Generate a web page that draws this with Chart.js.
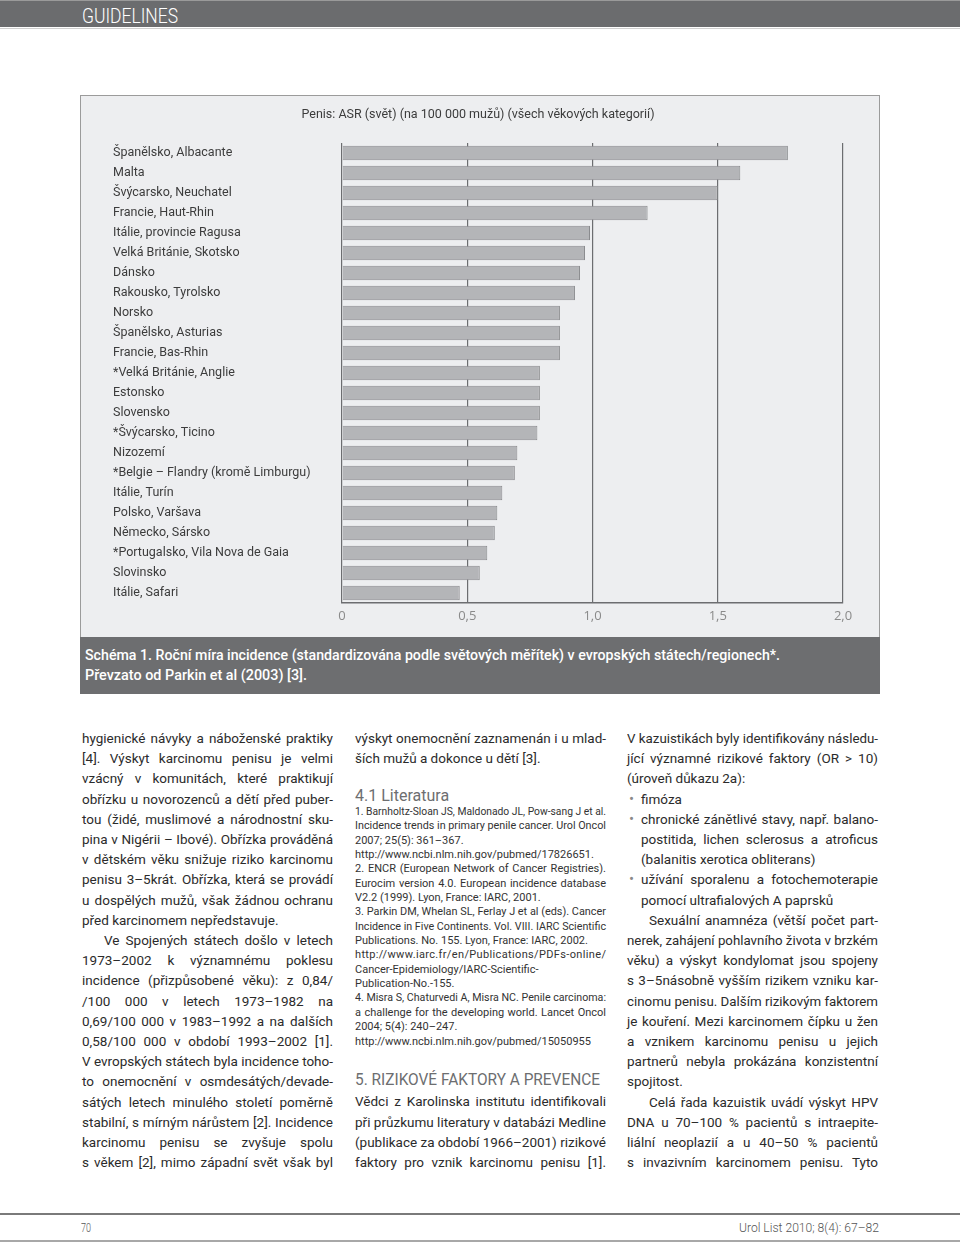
<!DOCTYPE html>
<html>
<head>
<meta charset="utf-8">
<script src="https://cdn.jsdelivr.net/npm/chart.js@4"></script>
<style>
  html, body { margin: 0; padding: 0; background: #fff; }
  body { width: 960px; height: 1242px; position: relative; overflow: hidden; font-family: Roboto, "Open Sans", sans-serif; color: #2b2b2b; }
  .head { position: absolute; left: 0; top: 0; width: 960px; height: 27px; background: #6b6c6e; border-top: 1px solid #9a9a9a; box-sizing: border-box; }
  .head-line { position: absolute; left: 0; top: 28px; width: 960px; height: 1px; background: #cfcfcf; }
  .head span { position: absolute; left: 82px; top: 3px; color: #fff; font-size: 20px; font-weight: 300; white-space: nowrap; display: inline-block; transform-origin: 0 0; }
  .panel { position: absolute; left: 80px; top: 95px; width: 800px; height: 599px; background: #edeef0; border: 1px solid #9b9b9b; box-sizing: border-box; }
  #chart { position: absolute; left: 80px; top: 95px; }
  .cap { position: absolute; left: 80px; top: 637px; width: 800px; height: 57px; background: #6d6e70; color: #fff; font-size: 14.5px; font-weight: 500; }
  .cap div { position: absolute; left: 5px; white-space: nowrap; transform-origin: 0 0; }
  .col { position: absolute; width: 251px; }
  .ln { white-space: nowrap; text-align: left; box-sizing: border-box; position: relative; }
  .ln span { white-space: nowrap; }
  .body { font-size: 13.5px; line-height: 20.2px; }
  .refs { font-size: 11px; line-height: 14.35px; color: #333; }
  .ind { padding-left: 22px; }
  .bul, .cont { padding-left: 14px; }
  .bul::before { content: "\2022"; position: absolute; left: 2px; top: 0; color: #8a8a8a; font-size: 15px; }
  .hd { color: #6d6e70; white-space: nowrap; position: absolute; transform-origin: 0 0; }
  .foot1 { position: absolute; left: 0; top: 1213px; width: 960px; height: 2px; background: #7a7a7a; }
  .foot2 { position: absolute; left: 0; top: 1240px; width: 960px; height: 2px; background: #a8a8a8; }
  .foot { position: absolute; top: 1219px; font-size: 13.5px; font-weight: 300; color: #555; white-space: nowrap; transform-origin: 0 0; }
</style>
</head>
<body>
<div class="head"><span class="fw" data-w="96">GUIDELINES</span></div>
<div class="head-line"></div>

<div class="panel"></div>
<canvas id="chart" width="800" height="542"></canvas>
<div class="cap">
  <div class="fw" data-w="695" style="top:10px">Schéma 1. Roční míra incidence (standardizována podle světových měřítek) v evropských státech/regionech*.</div>
  <div class="fw" data-w="222" style="top:30px">Převzato od Parkin et al (2003) [3].</div>
</div>

<!-- column 1 -->
<div class="col body" style="left:82px; top:728px;">
  <div class="ln j"><span>hygienické návyky a náboženské praktiky</span></div>
  <div class="ln j"><span>[4]. Výskyt karcinomu penisu je velmi</span></div>
  <div class="ln j"><span>vzácný v komunitách, které praktikují</span></div>
  <div class="ln j"><span>obřízku u novorozenců a dětí před puber-</span></div>
  <div class="ln j"><span>tou (židé, muslimové a národnostní sku-</span></div>
  <div class="ln j"><span>pina v Nigérii – Ibové). Obřízka prováděná</span></div>
  <div class="ln j"><span>v dětském věku snižuje riziko karcinomu</span></div>
  <div class="ln j"><span>penisu 3–5krát. Obřízka, která se provádí</span></div>
  <div class="ln j"><span>u dospělých mužů, však žádnou ochranu</span></div>
  <div class="ln"><span>před karcinomem nepředstavuje.</span></div>
  <div class="ln j ind"><span>Ve Spojených státech došlo v letech</span></div>
  <div class="ln j"><span>1973–2002 k významnému poklesu</span></div>
  <div class="ln j"><span>incidence (přizpůsobené věku): z 0,84/</span></div>
  <div class="ln j"><span>/100 000 v letech 1973–1982 na</span></div>
  <div class="ln j"><span>0,69/100 000 v 1983–1992 a na dalších</span></div>
  <div class="ln j"><span>0,58/100 000 v období 1993–2002 [1].</span></div>
  <div class="ln j"><span>V evropských státech byla incidence toho-</span></div>
  <div class="ln j"><span>to onemocnění v osmdesátých/devade-</span></div>
  <div class="ln j"><span>sátých letech minulého století poměrně</span></div>
  <div class="ln j"><span>stabilní, s mírným nárůstem [2]. Incidence</span></div>
  <div class="ln j"><span>karcinomu penisu se zvyšuje spolu</span></div>
  <div class="ln j"><span>s věkem [2], mimo západní svět však byl</span></div>
</div>

<!-- column 2 -->
<div class="col body" style="left:355px; top:728px;">
  <div class="ln j"><span>výskyt onemocnění zaznamenán i u mlad-</span></div>
  <div class="ln"><span>ších mužů a dokonce u dětí [3].</span></div>
</div>
<div class="hd" style="left:355px; top:786px; font-size:16px;">4.1 Literatura</div>
<div class="col refs" style="left:355px; top:805px;">
  <div class="ln j"><span>1. Barnholtz-Sloan JS, Maldonado JL, Pow-sang J et al.</span></div>
  <div class="ln j"><span>Incidence trends in primary penile cancer. Urol Oncol</span></div>
  <div class="ln"><span>2007; 25(5): 361–367.</span></div>
  <div class="ln"><span>http://www.ncbi.nlm.nih.gov/pubmed/17826651.</span></div>
  <div class="ln j"><span>2. ENCR (European Network of Cancer Registries).</span></div>
  <div class="ln j"><span>Eurocim version 4.0. European incidence database</span></div>
  <div class="ln"><span>V2.2 (1999). Lyon, France: IARC, 2001.</span></div>
  <div class="ln j"><span>3. Parkin DM, Whelan SL, Ferlay J et al (eds). Cancer</span></div>
  <div class="ln j"><span>Incidence in Five Continents. Vol. VIII. IARC Scientific</span></div>
  <div class="ln"><span>Publications. No. 155. Lyon, France: IARC, 2002.</span></div>
  <div class="ln fill"><span>http://www.iarc.fr/en/Publications/PDFs-online/</span></div>
  <div class="ln"><span>Cancer-Epidemiology/IARC-Scientific-</span></div>
  <div class="ln"><span>Publication-No.-155.</span></div>
  <div class="ln j"><span>4. Misra S, Chaturvedi A, Misra NC. Penile carcinoma:</span></div>
  <div class="ln j"><span>a challenge for the developing world. Lancet Oncol</span></div>
  <div class="ln"><span>2004; 5(4): 240–247.</span></div>
  <div class="ln"><span>http://www.ncbi.nlm.nih.gov/pubmed/15050955</span></div>
</div>
<div class="hd fw" data-w="245" style="left:355px; top:1069px; font-size:17px;">5. RIZIKOVÉ FAKTORY A PREVENCE</div>
<div class="col body" style="left:355px; top:1091.4px;">
  <div class="ln j"><span>Vědci z Karolinska institutu identifikovali</span></div>
  <div class="ln j"><span>při průzkumu literatury v databázi Medline</span></div>
  <div class="ln j"><span>(publikace za období 1966–2001) rizikové</span></div>
  <div class="ln j"><span>faktory pro vznik karcinomu penisu [1].</span></div>
</div>

<!-- column 3 -->
<div class="col body" style="left:627px; top:728px;">
  <div class="ln j"><span>V kazuistikách byly identifikovány následu-</span></div>
  <div class="ln j"><span>jící významné rizikové faktory (OR &gt; 10)</span></div>
  <div class="ln"><span>(úroveň důkazu 2a):</span></div>
  <div class="ln bul"><span>fimóza</span></div>
  <div class="ln j bul"><span>chronické zánětlivé stavy, např. balano-</span></div>
  <div class="ln j cont"><span>postitida, lichen sclerosus a atroficus</span></div>
  <div class="ln cont"><span>(balanitis xerotica obliterans)</span></div>
  <div class="ln j bul"><span>užívání sporalenu a fotochemoterapie</span></div>
  <div class="ln cont"><span>pomocí ultrafialových A paprsků</span></div>
  <div class="ln j ind"><span>Sexuální anamnéza (větší počet part-</span></div>
  <div class="ln j"><span>nerek, zahájení pohlavního života v brzkém</span></div>
  <div class="ln j"><span>věku) a výskyt kondylomat jsou spojeny</span></div>
  <div class="ln j"><span>s 3–5násobně vyšším rizikem vzniku kar-</span></div>
  <div class="ln j"><span>cinomu penisu. Dalším rizikovým faktorem</span></div>
  <div class="ln j"><span>je kouření. Mezi karcinomem čípku u žen</span></div>
  <div class="ln j"><span>a vznikem karcinomu penisu u jejich</span></div>
  <div class="ln j"><span>partnerů nebyla prokázána konzistentní</span></div>
  <div class="ln"><span>spojitost.</span></div>
  <div class="ln j ind"><span>Celá řada kazuistik uvádí výskyt HPV</span></div>
  <div class="ln j"><span>DNA u 70–100 % pacientů s intraepite-</span></div>
  <div class="ln j"><span>liální neoplazií a u 40–50 % pacientů</span></div>
  <div class="ln j"><span>s invazivním karcinomem penisu. Tyto</span></div>
</div>

<div class="foot1"></div>
<div class="foot2"></div>
<div class="foot fw" data-w="10" style="left:81px;">70</div>
<div class="foot fw" data-w="140" style="left:739px;">Urol List 2010; 8(4): 67–82</div>

<script>
// ASR incidence per 100 000 men
const regions = [
  "Španělsko, Albacante",
  "Malta",
  "Švýcarsko, Neuchatel",
  "Francie, Haut-Rhin",
  "Itálie, provincie Ragusa",
  "Velká Británie, Skotsko",
  "Dánsko",
  "Rakousko, Tyrolsko",
  "Norsko",
  "Španělsko, Asturias",
  "Francie, Bas-Rhin",
  "*Velká Británie, Anglie",
  "Estonsko",
  "Slovensko",
  "*Švýcarsko, Ticino",
  "Nizozemí",
  "*Belgie – Flandry (kromě Limburgu)",
  "Itálie, Turín",
  "Polsko, Varšava",
  "Německo, Sársko",
  "*Portugalsko, Vila Nova de Gaia",
  "Slovinsko",
  "Itálie, Safari"
];
const asrValues = [1.78, 1.59, 1.50, 1.22, 0.99, 0.97, 0.95, 0.93, 0.87, 0.87, 0.87, 0.79, 0.79, 0.79, 0.78, 0.70, 0.69, 0.64, 0.62, 0.61, 0.58, 0.55, 0.47];
const xTickLabels = ["0", "0,5", "1,0", "1,5", "2,0"];
const chartTitle = "Penis: ASR (svět) (na 100 000 mužů) (všech věkových kategorií)";

// fit text lines into their column (justify short ones, squeeze long ones)
function fitLines() {
    document.querySelectorAll('.ln').forEach(el => {
        const span = el.querySelector('span');
        const cs = getComputedStyle(el);
        const avail = el.clientWidth - parseFloat(cs.paddingLeft) - parseFloat(cs.paddingRight);
        const sw = span.getBoundingClientRect().width;
        if (sw > avail) {
            span.style.display = 'inline-block';
            span.style.transformOrigin = '0 0';
            span.style.transform = 'scaleX(' + (avail / sw) + ')';
        } else if (el.classList.contains('fill')) {
            const n = span.textContent.length;
            span.style.letterSpacing = ((avail - sw) / (n - 1)) + 'px';
        } else if (el.classList.contains('j')) {
            el.style.whiteSpace = 'normal';
            span.style.whiteSpace = 'normal';
            el.style.textAlign = 'justify';
            el.style.textAlignLast = 'justify';
        }
    });
    document.querySelectorAll('.fw').forEach(el => {
        el.style.display = 'inline-block';
        const w = el.getBoundingClientRect().width;
        el.style.transformOrigin = '0 0';
        el.style.transform = 'scaleX(' + (parseFloat(el.dataset.w) / w) + ')';
    });
}

document.addEventListener("DOMContentLoaded", () => {
    fitLines();

    const gridGrey = "#6c6d70";

    new Chart(document.getElementById("chart"), {
        type: "bar",
        data: {
            labels: regions,
            datasets: [{
                data: asrValues,
                backgroundColor: "#b4b5b8",
                borderColor: "#8a8b8e",
                borderWidth: 1,
                barPercentage: 0.73,
                categoryPercentage: 1
            }]
        },
        options: {
            indexAxis: "y",
            responsive: false,
            animation: false,
            layout: { padding: { left: 33, right: 37, top: 0, bottom: 0 } },
            plugins: {
                legend: { display: false },
                tooltip: { enabled: false },
                title: {
                    display: true,
                    text: chartTitle,
                    color: "#3c3c3c",
                    font: { family: "Roboto", size: 12.5, weight: "normal" },
                    padding: { top: 12, bottom: 21 }
                }
            },
            scales: {
                x: {
                    min: 0,
                    max: 2,
                    z: 1, // grid lines over the bars, like the print
                    ticks: {
                        stepSize: 0.5,
                        color: "#8a8a8a",
                        font: { family: "Open Sans", size: 13 },
                        padding: 5,
                        callback: (v, i) => xTickLabels[i]
                    },
                    grid: { color: gridGrey, lineWidth: 1.2, drawTicks: false },
                    border: { display: true, color: gridGrey, width: 1.5 },
                    afterFit: (s) => { s.paddingLeft = 0; s.paddingRight = 0; s.height = 34; }
                },
                y: {
                    ticks: {
                        crossAlign: "far",
                        autoSkip: false,
                        padding: 0,
                        color: "#3c3c3c",
                        font: { family: "Roboto", size: 12.5 }
                    },
                    grid: { display: false, drawTicks: false },
                    border: { display: false },
                    afterFit: (s) => { s.width = 229; s.paddingTop = 0; s.paddingBottom = 0; }
                }
            }
        }
    });
});
</script>
</body>
</html>
